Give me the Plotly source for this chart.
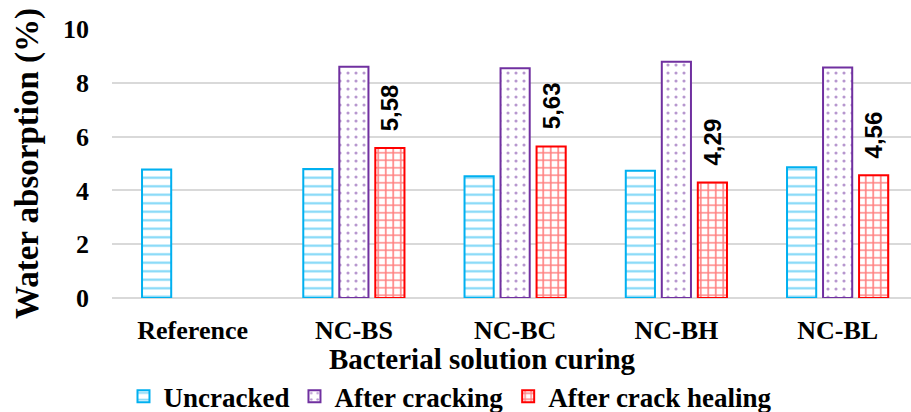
import plotly.graph_objects as go

categories = ["Reference", "NC-BS", "NC-BC", "NC-BH", "NC-BL"]
uncracked = [4.78, 4.80, 4.53, 4.73, 4.86]
after_cracking = [None, 8.60, 8.54, 8.78, 8.57]
after_healing = [None, 5.58, 5.63, 4.29, 4.56]
healing_labels = ["", "5,58", "5,63", "4,29", "4,56"]
y_ticks = [0, 2, 4, 6, 8, 10]

SERIF = "Liberation Serif, Times New Roman, serif"
SANS = "Liberation Sans, Arial, sans-serif"

fig = go.Figure()
fig.add_bar(
    name="Uncracked", x=categories, y=uncracked,
    marker=dict(color="white", line=dict(color="#00B0F0", width=2),
                pattern=dict(shape="-", fgcolor="#00B0F0", bgcolor="white", size=8.5, solidity=0.25)),
)
fig.add_bar(
    name="After cracking", x=categories, y=after_cracking,
    marker=dict(color="white", line=dict(color="#7030A0", width=2),
                pattern=dict(shape=".", fgcolor="#7030A0", bgcolor="white", size=8, solidity=0.12)),
)
fig.add_bar(
    name="After crack healing", x=categories, y=after_healing,
    marker=dict(color="white", line=dict(color="#FF0000", width=2),
                pattern=dict(shape="+", fgcolor="#FF0000", bgcolor="white", size=7.5, solidity=0.38)),
)

for c, v, t in zip(categories, after_healing, healing_labels):
    if v is None:
        continue
    fig.add_annotation(
        x=c, y=v, xref="x", yref="y", text=t, showarrow=False,
        textangle=-90, xshift=36, yshift=15, yanchor="bottom", xanchor="center",
        font=dict(family=SANS, size=24, color="black", weight="bold"),
    )

fig.add_annotation(
    text="Bacterial solution curing", showarrow=False,
    xref="paper", yref="paper", x=0.4643, y=-0.225,
    xanchor="center", yanchor="middle",
    font=dict(family=SERIF, size=29, color="black", weight="bold"),
)

fig.update_layout(
    width=911, height=412,
    margin=dict(l=112, r=0, t=29, b=114, autoexpand=False),
    plot_bgcolor="white", paper_bgcolor="white",
    barmode="group", bargap=0.33, bargroupgap=0.19,
    showlegend=True,
    legend=dict(orientation="h", xref="container", yref="container",
                x=0.4945, xanchor="center", y=0.037, yanchor="middle",
                font=dict(family=SERIF, size=27, color="black", weight="bold"),
                itemwidth=30, tracegroupgap=0),
    font=dict(family=SERIF, color="black"),
)
fig.update_xaxes(
    range=[-0.5, 4.455], showgrid=False, showline=False,
    tickfont=dict(family=SERIF, size=26, color="black", weight="bold"),
    ticklabelstandoff=14,
)
fig.update_yaxes(
    range=[0, 10], tickvals=y_ticks, showgrid=True, gridcolor="#D9D9D9", gridwidth=1.5,
    zeroline=True, zerolinecolor="#D9D9D9", zerolinewidth=1.5, showline=False,
    tickfont=dict(family=SERIF, size=26, color="black", weight="bold"),
    ticklabelstandoff=22,
    title=dict(text="Water absorption (%)", standoff=14,
               font=dict(family=SERIF, size=33, color="black", weight="bold")),
)

fig.write_html("out.html")
